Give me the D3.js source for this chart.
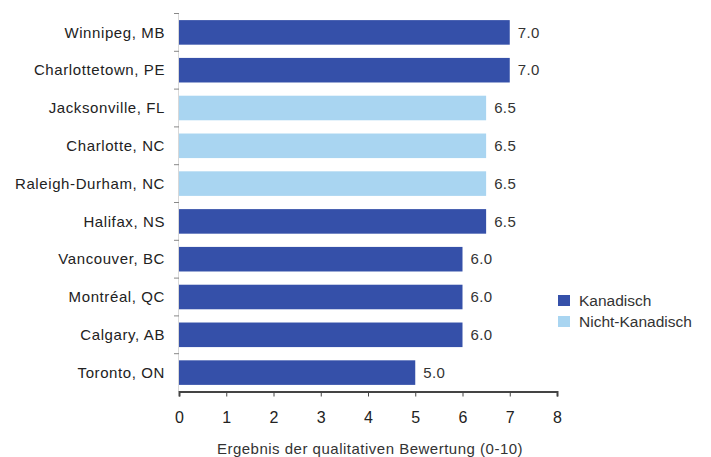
<!DOCTYPE html>
<html>
    <head>
        <style>
            body { margin: 0; background: #fff; }
            svg { font-family: "Liberation Sans", Arial, sans-serif; }
        </style>
    </head>
    <body>
        <div id="chart"></div>
        <script src="https://cdnjs.cloudflare.com/ajax/libs/d3/7.8.5/d3.min.js"></script>
    <script>
        var cities = ["Winnipeg, MB", "Charlottetown, PE", "Jacksonville, FL", "Charlotte, NC",
            "Raleigh-Durham, NC", "Halifax, NS", "Vancouver, BC", "Montréal, QC", "Calgary, AB", "Toronto, ON"];
        var scores = [7.0, 7.0, 6.5, 6.5, 6.5, 6.5, 6.0, 6.0, 6.0, 5.0];
        var groups = ["Kanadisch", "Kanadisch", "Nicht-Kanadisch", "Nicht-Kanadisch", "Nicht-Kanadisch",
            "Kanadisch", "Kanadisch", "Kanadisch", "Kanadisch", "Kanadisch"];
        var legendLabels = ["Kanadisch", "Nicht-Kanadisch"];
        var xTicks = [0, 1, 2, 3, 4, 5, 6, 7, 8];
        var xTitle = "Ergebnis der qualitativen Bewertung (0-10)";

        (function() {
            var width = 711, height = 457;

            var svg = d3.select("#chart").append("svg")
                .attr("width", width)
                .attr("height", height);

            var x = d3.scaleLinear().domain([0, 8]).range([179, 557]);
            var y = d3.scaleBand().domain(cities).range([13.5, 391.5]).paddingInner(0.35).paddingOuter(0.175);
            var color = d3.scaleOrdinal().domain(legendLabels).range(["#3550a9", "#a9d5f1"]);

            var data = cities.map(function(c, i) {
                return {city: c, score: scores[i], group: groups[i]};
            });

            // y axis: faint line, ticks on band boundaries
            svg.append("line")
                .attr("x1", 178.5).attr("x2", 178.5)
                .attr("y1", 13.5).attr("y2", 391.5)
                .attr("stroke", "#d8d8d8");
            var step = y.step();
            d3.range(cities.length).forEach(function(i) {
                var yy = 13.5 + i * step;
                svg.append("line")
                    .attr("x1", 174).attr("x2", 179)
                    .attr("y1", yy).attr("y2", yy)
                    .attr("stroke", "#888");
            });

            svg.selectAll(".cat")
                .data(data)
                .enter().append("text")
                .attr("x", 165)
                .attr("y", function(d) { return y(d.city) + y.bandwidth() / 2; })
                .attr("dy", "0.35em")
                .attr("text-anchor", "end")
                .attr("font-size", 15)
                .attr("letter-spacing", 0.6)
                .attr("fill", "#222")
                .text(function(d) { return d.city; });

            svg.selectAll(".bar")
                .data(data)
                .enter().append("rect")
                .attr("x", x(0))
                .attr("y", function(d) { return y(d.city); })
                .attr("width", function(d) { return x(d.score) - x(0); })
                .attr("height", y.bandwidth())
                .attr("fill", function(d) { return color(d.group); });

            svg.selectAll(".val")
                .data(data)
                .enter().append("text")
                .attr("x", function(d) { return x(d.score) + 8; })
                .attr("y", function(d) { return y(d.city) + y.bandwidth() / 2; })
                .attr("dy", "0.35em")
                .attr("font-size", 15)
                .attr("letter-spacing", 0.4)
                .attr("fill", "#333")
                .text(function(d) { return d3.format(".1f")(d.score); });

            // x axis
            var xAxis = svg.append("g")
                .attr("transform", "translate(0,391.5)")
                .call(d3.axisBottom(x).tickValues(xTicks).tickSize(5).tickPadding(15));
            xAxis.select(".domain").attr("stroke", "#444").attr("stroke-width", 2);
            xAxis.selectAll(".tick line").attr("stroke", "#444");
            xAxis.selectAll("text").attr("font-size", 16).attr("fill", "#222")
                .attr("font-family", "Liberation Sans, Arial, sans-serif");

            svg.append("text")
                .attr("x", 370)
                .attr("y", 454)
                .attr("text-anchor", "middle")
                .attr("font-size", 15)
                .attr("letter-spacing", 0.5)
                .attr("fill", "#333")
                .text(xTitle);

            // legend
            var legend = svg.selectAll(".legend")
                .data(legendLabels)
                .enter().append("g")
                .attr("transform", function(d, i) { return "translate(558," + (295 + i * 21) + ")"; });
            legend.append("rect")
                .attr("width", 12).attr("height", 11)
                .attr("fill", function(d) { return color(d); });
            legend.append("text")
                .attr("x", 21).attr("y", 6)
                .attr("dy", "0.35em")
                .attr("font-size", 15.5)
                .attr("fill", "#333")
                .text(function(d) { return d; });
        })();
    </script>
    </body>
</html>
